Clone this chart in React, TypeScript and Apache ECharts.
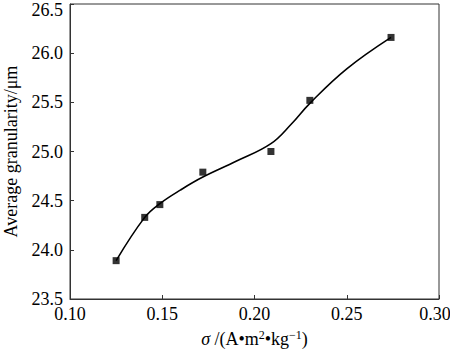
import React, { useEffect, useRef } from "react";
import * as echarts from "echarts";

const sigmaValues = [0.125, 0.1405, 0.1487, 0.172, 0.2089, 0.23, 0.274];
const granularityValues = [23.89, 24.33, 24.46, 24.79, 25.0, 25.52, 26.16];

// fitted curve
const curveX = [0.125, 0.1405, 0.1487, 0.16, 0.172, 0.19, 0.2089, 0.22, 0.23, 0.25, 0.274];
const curveY = [23.89, 24.33, 24.47, 24.61, 24.74, 24.9, 25.08, 25.28, 25.49, 25.84, 26.16];

const xTicks = { min: 0.1, max: 0.3, interval: 0.05 };
const yTicks = { min: 23.5, max: 26.5, interval: 0.5 };

const FONT = "Liberation Serif, Times New Roman, serif";

export default function App() {
  const ref = useRef<HTMLDivElement>(null);
  useEffect(() => {
    if (!ref.current) return;
    const chart = echarts.init(ref.current, undefined, { renderer: "svg" });
    const axisColor = "#333";
    chart.setOption({
      animation: false,
      backgroundColor: "#fff",
      grid: {
        left: 70,
        right: 11,
        top: 4,
        bottom: 52,
        containLabel: false,
        outerBoundsMode: "none",
        show: true,
        borderColor: axisColor,
        borderWidth: 1,
      },
      xAxis: {
        type: "value",
        min: xTicks.min,
        max: xTicks.max,
        interval: xTicks.interval,
        splitLine: { show: false },
        axisLine: { lineStyle: { color: axisColor, width: 1 } },
        axisTick: { inside: true, length: 4, lineStyle: { color: axisColor } },
        axisLabel: {
          color: "#000",
          fontFamily: FONT,
          fontSize: 18,
          margin: 6,
          formatter: (v: number) =>
            Math.abs(v - xTicks.max) < 1e-9 ? "{e|" + v.toFixed(2) + "}" : v.toFixed(2),
          rich: {
            e: { fontFamily: FONT, fontSize: 18, color: "#000", padding: [0, 8, 0, 0] },
          },
        },
        name: "{i|σ}{n| /(A•m}{s|2}{n|•kg}{s|−1}{n|)}",
        nameLocation: "middle",
        nameGap: 30,
        nameTextStyle: {
          color: "#000",
          fontFamily: FONT,
          fontSize: 18,
          rich: {
            i: { fontFamily: FONT, fontSize: 18, fontStyle: "italic", color: "#000", lineHeight: 20 },
            n: { fontFamily: FONT, fontSize: 18, color: "#000", lineHeight: 20 },
            s: { fontFamily: FONT, fontSize: 12, color: "#000", verticalAlign: "top", lineHeight: 20, padding: [0, 0, 8, 0] },
          },
        },
      },
      yAxis: {
        type: "value",
        min: yTicks.min,
        max: yTicks.max,
        interval: yTicks.interval,
        splitLine: { show: false },
        axisLine: { show: true, lineStyle: { color: axisColor, width: 1 } },
        axisTick: { show: true, inside: true, length: 4, lineStyle: { color: axisColor } },
        axisLabel: {
          color: "#000",
          fontFamily: FONT,
          fontSize: 18,
          margin: 7,
          formatter: (v: number) =>
            Math.abs(v - yTicks.max) < 1e-9 ? "{t|" + v.toFixed(1) + "}" : v.toFixed(1),
          rich: {
            t: { fontFamily: FONT, fontSize: 18, color: "#000", padding: [12, 0, 0, 0] },
          },
        },
        name: "Average granularity/μm",
        nameLocation: "middle",
        nameGap: 50,
        nameTextStyle: { color: "#000", fontFamily: FONT, fontSize: 18 },
      },
      series: [
        {
          type: "line",
          data: curveX.map((x, i) => [x, curveY[i]]),
          smooth: 0.4,
          showSymbol: false,
          symbol: "none",
          lineStyle: { color: "#000", width: 1.6 },
          z: 2,
        },
        {
          type: "scatter",
          data: sigmaValues.map((x, i) => [x, granularityValues[i]]),
          symbol: "rect",
          symbolSize: 7,
          itemStyle: { color: "#000" },
          z: 3,
        },
      ],
    });
    return () => chart.dispose();
  }, []);
  return <div ref={ref} style={{ width: 450, height: 351, position: "absolute", left: 0, top: 0 }} />;
}
